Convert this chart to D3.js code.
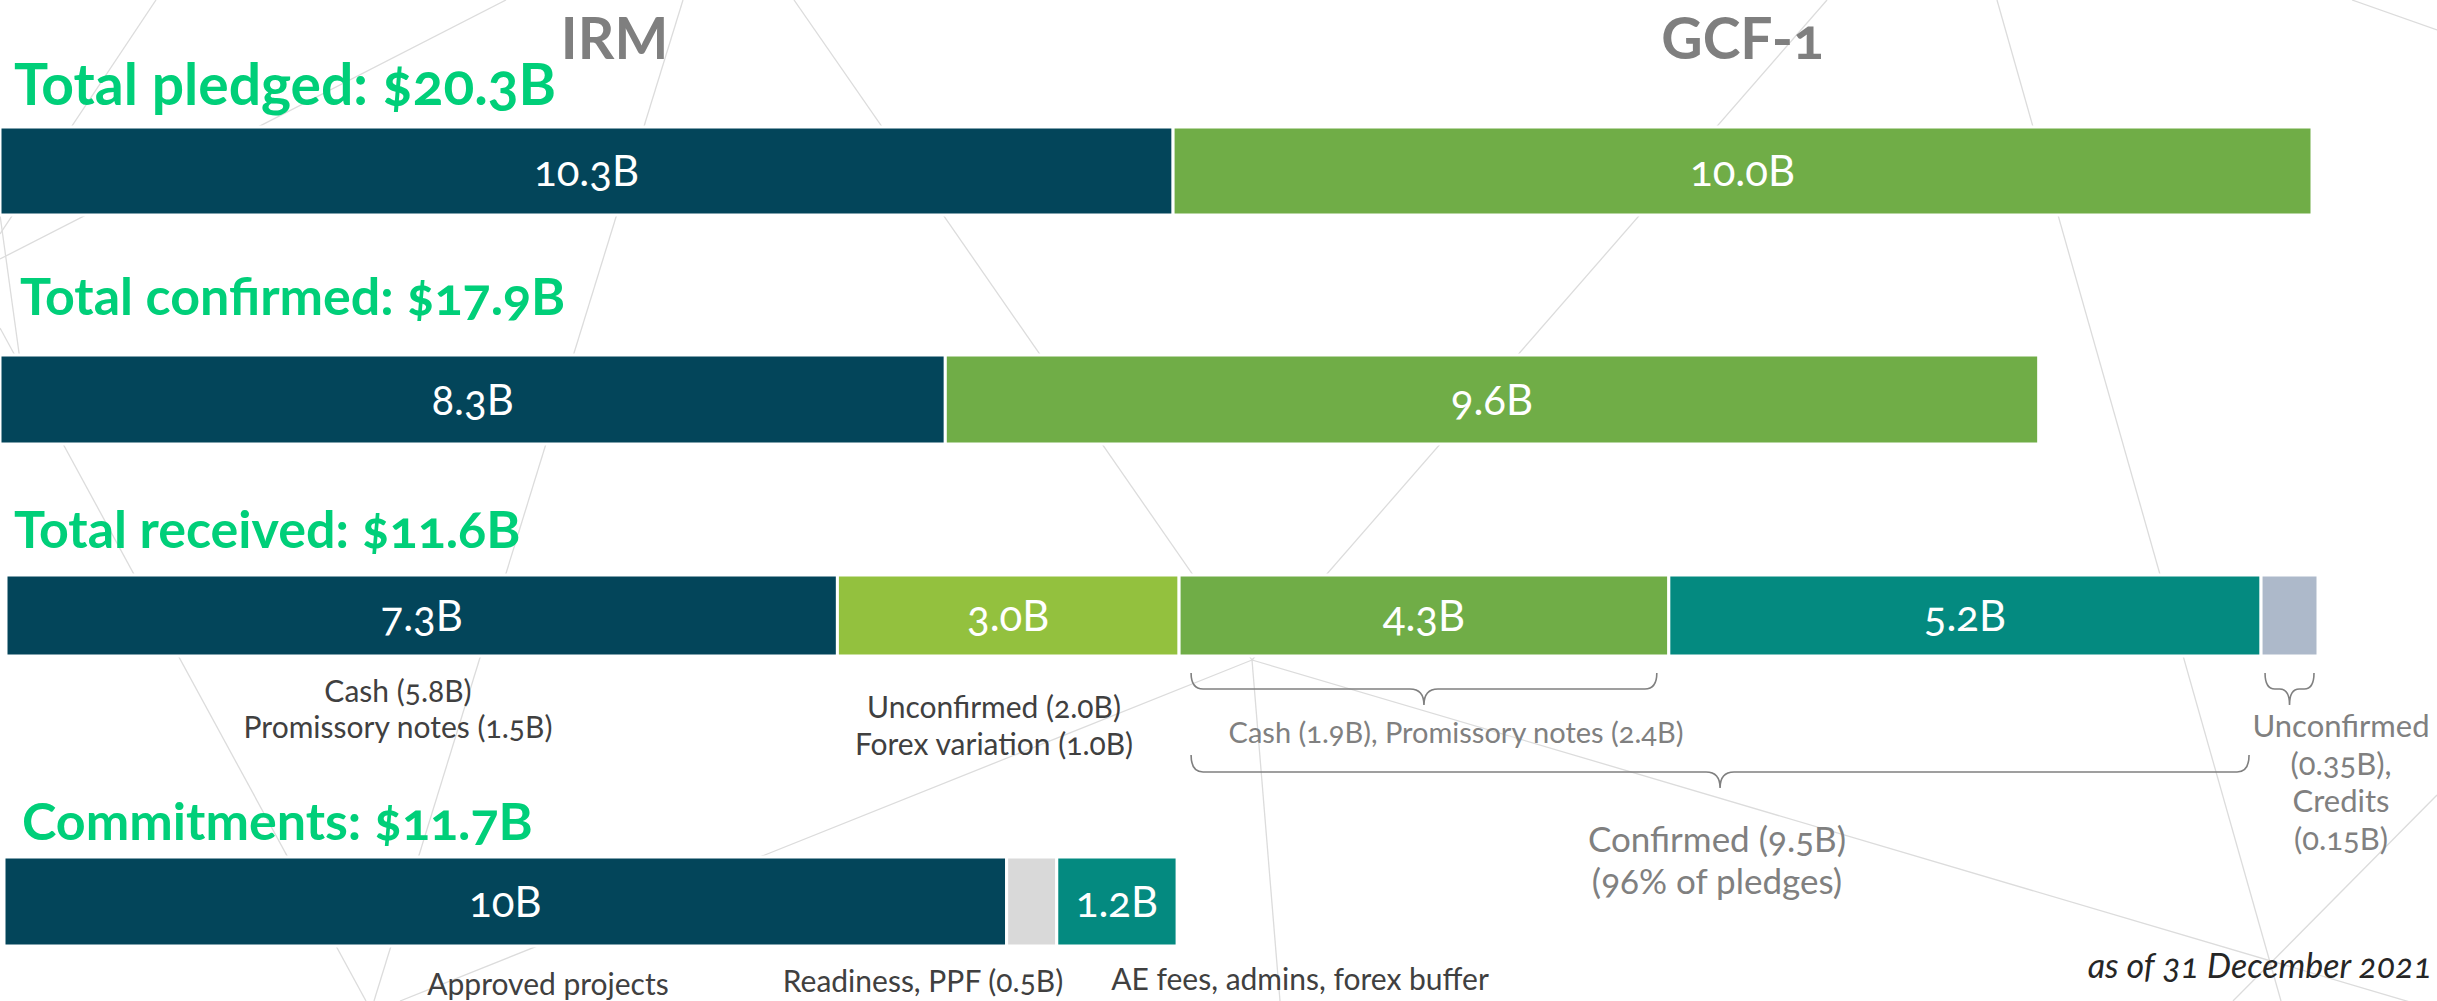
<!DOCTYPE html>
<html>
<head>
<meta charset="utf-8">
<script src="https://cdn.jsdelivr.net/npm/d3@7"></script>
<style>
  html, body { margin: 0; padding: 0; background: #fff; }
  svg { display: block; font-family: Lato, "Open Sans", sans-serif; font-variant-numeric: oldstyle-nums; }
</style>
</head>
<body>
<div id="chart"></div>
<script>
// ---- data ----
const fundNames = ["IRM", "GCF-1"];
const rowTitles = ["Total pledged: $20.3B", "Total confirmed: $17.9B", "Total received: $11.6B", "Commitments: $11.7B"];

const pledgedValues = [10.3, 10.0];
const pledgedLabels = ["10.3B", "10.0B"];

const confirmedValues = [8.3, 9.6];
const confirmedLabels = ["8.3B", "9.6B"];

const receivedCats = ["IRM received", "IRM unconfirmed / forex", "GCF-1 received", "GCF-1 confirmed, not yet received", "GCF-1 unconfirmed, credits"];
const receivedValues = [7.3, 3.0, 4.3, 5.2, 0.5];
const receivedLabels = ["7.3B", "3.0B", "4.3B", "5.2B", ""];

const commitCats = ["Approved projects", "Readiness, PPF", "AE fees, admins, forex buffer"];
const commitValues = [10, 0.5, 1.2];
const commitLabels = ["10B", "", "1.2B"];

const irmReceivedNotes = ["Cash (5.8B)", "Promissory notes (1.5B)"];
const irmGapNotes = ["Unconfirmed (2.0B)", "Forex variation (1.0B)"];
const gcfReceivedNote = ["Cash (1.9B), Promissory notes (2.4B)"];
const gcfConfirmedNote = ["Confirmed (9.5B)", "(96% of pledges)"];
const gcfUnconfirmedNote = ["Unconfirmed", "(0.35B),", "Credits", "(0.15B)"];
const commitNotes = ["Approved projects", "Readiness, PPF (0.5B)", "AE fees, admins, forex buffer"];
const dateNote = "as of 31 December 2021";

// ---- look ----
const W = 2437, H = 1001;
const C = {
  dark: "#03455a", green: "#70ad47", lime: "#93c13e", teal: "#048a80",
  slate: "#adb9ca", pale: "#d9d9d9", title: "#00cf79", head: "#7f7f7f",
  note: "#404040", soft: "#808080", web: "#dcdcdc"
};

const rows = [
  { titleX: 14, titleY: 105, titleSize: 57, y: 127, h: 88, x0: 0 },
  { titleX: 20, titleY: 315, titleSize: 52, y: 355, h: 89, x0: 0 },
  { titleX: 14, titleY: 548, titleSize: 52, y: 575, h: 81, x0: 6 },
  { titleX: 22, titleY: 840, titleSize: 52, y: 857, h: 89, x0: 4 }
];

// faint polygon mesh behind the chart
const backdrop = [
  [156, 0, 0, 234], [506, 0, 0, 259], [683, 0, 374, 1001], [794, 0, 1252, 660],
  [1827, 0, 1252, 660], [1252, 660, 400, 1001], [1252, 660, 2437, 1010],
  [1252, 660, 1280, 1001], [1997, 0, 2281, 1001], [2352, 0, 2437, 30],
  [2437, 795, 2233, 1001], [0, 328, 366, 1001], [0, 215, 20, 360]
];

const svg = d3.select("#chart").append("svg")
  .attr("width", W).attr("height", H)
  .attr("viewBox", `0 0 ${W} ${H}`);

svg.append("g").selectAll("line")
  .data(backdrop)
  .join("line")
  .attr("x1", d => d[0]).attr("y1", d => d[1])
  .attr("x2", d => d[2]).attr("y2", d => d[3])
  .attr("stroke", C.web).attr("stroke-width", 1.3);

// one scale for pledges/confirmations/receipts
const x = d3.scaleLinear().domain([0, d3.sum(pledgedValues)]).range([0, 2312]);
// commitments drawn against the IRM pledge width
const xc = d3.scaleLinear().domain([0, d3.sum(commitValues)]).range([0, x(pledgedValues[0])]);

function segments(values, labels, colors) {
  const ends = d3.cumsum(values);
  return values.map((v, i) => ({ v, start: ends[i] - v, end: ends[i], label: labels[i], color: colors[i] }));
}

function drawRow(row, segs, scale) {
  const g = svg.append("g").attr("transform", `translate(${row.x0},${row.y})`);

  g.selectAll("rect")
    .data(segs)
    .join("rect")
    .attr("x", d => scale(d.start))
    .attr("y", 0)
    .attr("width", d => scale(d.end) - scale(d.start))
    .attr("height", row.h)
    .attr("fill", d => d.color)
    .attr("stroke", "#fff")
    .attr("stroke-width", 3);

  g.selectAll("text")
    .data(segs.filter(d => d.label))
    .join("text")
    .attr("x", d => (scale(d.start) + scale(d.end)) / 2)
    .attr("y", row.h / 2 + 15)
    .attr("text-anchor", "middle")
    .attr("fill", "#fff")
    .attr("font-size", 42)
    .text(d => d.label);

  return segs.map(d => ({ x1: row.x0 + scale(d.start), x2: row.x0 + scale(d.end) }));
}

const pledged = drawRow(rows[0], segments(pledgedValues, pledgedLabels, [C.dark, C.green]), x);
drawRow(rows[1], segments(confirmedValues, confirmedLabels, [C.dark, C.green]), x);
const received = drawRow(rows[2], segments(receivedValues, receivedLabels, [C.dark, C.lime, C.green, C.teal, C.slate]), x);
drawRow(rows[3], segments(commitValues, commitLabels, [C.dark, C.pale, C.teal]), xc);

// row titles
svg.append("g").selectAll("text")
  .data(rowTitles)
  .join("text")
  .attr("x", (d, i) => rows[i].titleX)
  .attr("y", (d, i) => rows[i].titleY)
  .attr("fill", C.title)
  .attr("font-size", (d, i) => rows[i].titleSize)
  .attr("font-weight", 700)
  .text(d => d);

// fund headers over the pledge segments
svg.append("g").selectAll("text")
  .data(fundNames)
  .join("text")
  .attr("x", (d, i) => (pledged[i].x1 + pledged[i].x2) / 2 + (i === 0 ? 28 : 0))
  .attr("y", 59)
  .attr("text-anchor", "middle")
  .attr("fill", C.head)
  .attr("font-size", 57)
  .attr("font-weight", 700)
  .text(d => d);

// curly braces under the received row
function bracePath(x1, x2, yTop, yMid, yTip) {
  const m = (x1 + x2) / 2;
  const r = Math.min(12, (x2 - x1) / 5);
  const t = Math.min(14, (x2 - x1) / 5);
  return `M${x1},${yTop} Q${x1},${yMid} ${x1 + r},${yMid} L${m - t},${yMid} ` +
    `Q${m},${yMid} ${m},${yTip} Q${m},${yMid} ${m + t},${yMid} ` +
    `L${x2 - r},${yMid} Q${x2},${yMid} ${x2},${yTop}`;
}

const braces = [
  { from: 2, to: 2, inset: 12, top: 673, mid: 689, tip: 705 },
  { from: 2, to: 3, inset: 12, top: 755, mid: 772, tip: 788 },
  { from: 4, to: 4, inset: 4, top: 673, mid: 689, tip: 705 }
];

svg.append("g").selectAll("path")
  .data(braces)
  .join("path")
  .attr("d", b => bracePath(received[b.from].x1 + b.inset, received[b.to].x2 - b.inset, b.top, b.mid, b.tip))
  .attr("fill", "none")
  .attr("stroke", C.soft)
  .attr("stroke-width", 1.6);

// notes
const notes = [
  { lines: irmReceivedNotes, x: 398, y: 702, lh: 36, size: 30, color: C.note },
  { lines: irmGapNotes, x: 994, y: 718, lh: 37, size: 30, color: C.note },
  { lines: gcfReceivedNote, x: 1456, y: 743, lh: 37, size: 29, color: C.soft },
  { lines: gcfConfirmedNote, x: 1717, y: 852, lh: 42, size: 35, color: C.soft },
  { lines: gcfUnconfirmedNote, x: 2341, y: 737, lh: 37.5, size: 31, color: C.soft },
  { lines: [commitNotes[0]], x: 548, y: 995, lh: 30, size: 30, color: C.note },
  { lines: [commitNotes[1]], x: 923, y: 992, lh: 30, size: 30, color: C.note },
  { lines: [commitNotes[2]], x: 1300, y: 990, lh: 30, size: 30, color: C.note }
];

const noteG = svg.append("g")
  .selectAll("text")
  .data(notes)
  .join("text")
  .attr("text-anchor", "middle")
  .attr("font-size", d => d.size)
  .attr("fill", d => d.color);

noteG.selectAll("tspan")
  .data(d => d.lines.map((s, i) => ({ s, x: d.x, y: d.y + i * d.lh })))
  .join("tspan")
  .attr("x", d => d.x)
  .attr("y", d => d.y)
  .text(d => d.s);

svg.append("text")
  .attr("x", 2432)
  .attr("y", 978)
  .attr("text-anchor", "end")
  .attr("font-size", 34)
  .attr("font-style", "italic")
  .attr("fill", "#262626")
  .text(dateNote);
</script>
</body>
</html>
